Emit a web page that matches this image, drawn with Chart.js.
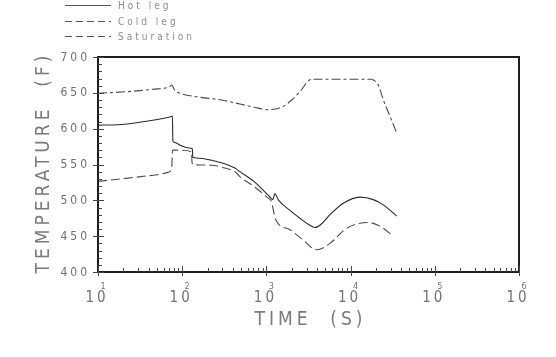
<!DOCTYPE html>
<html>
<head>
<meta charset="utf-8">
<script src="https://cdn.jsdelivr.net/npm/chart.js@4"></script>
<style>
html,body{margin:0;padding:0;background:#fff;}
#wrap{width:556px;height:357px;position:relative;}
</style>
</head>
<body>
<div id="wrap"><canvas id="c" width="556" height="357"></canvas></div>
<script>
// ---- data (time in s, temperature in F) ----
const seriesLabels = ['Hot leg', 'Cold leg', 'Saturation'];

const hotTime = [10, 17.3, 36, 55, 73, 76.5, 77.5, 80, 98, 120, 132, 133.5, 148, 223, 320, 422, 484, 716, 900, 1096, 1190, 1260, 1400, 1906, 2500, 3200, 3777, 4400, 5690, 8190, 12900, 18600, 25000, 35300];
const hotTemp = [605, 605.5, 610, 613.5, 616.5, 617.5, 583, 581, 576, 573, 572, 560, 559, 556, 551, 545, 540, 526, 515, 505, 501, 509, 500, 486, 475, 466, 462, 466, 480, 496, 504.5, 501, 493, 478];

const coldTime = [10, 22.7, 45, 68, 75, 77, 90, 129, 131, 141, 223, 320, 422, 484, 716, 1050, 1140, 1290, 1906, 2700, 3956, 5690, 8970, 16200, 22300, 32200];
const coldTemp = [526.5, 531, 535, 539, 546, 570, 570, 568, 552, 549.5, 549, 545, 540, 533, 519, 503, 499, 473, 459, 445, 431, 440, 461, 469, 464, 450];

const satTime = [10, 22.7, 45, 71, 75.5, 80, 86, 141, 293, 500, 716, 1050, 1580, 1994, 2500, 3440, 17800, 18600, 21300, 24500, 29400, 35300];
const satTemp = [649.5, 651.7, 655, 658.6, 661, 655, 651.5, 645, 640, 634, 630, 626.5, 631, 640, 651.7, 669, 669, 668, 661, 640, 617, 594];

const yTickValues = [400, 450, 500, 550, 600, 650, 700];
const xDecadeExponents = [1, 2, 3, 4, 5, 6];
const xAxisTitle = 'TIME  (S)';
const yAxisTitle = 'TEMPERATURE  (F)';

function pts(xs, ys) { return xs.map((x, i) => ({x: x, y: ys[i]})); }

const FONT = '"Liberation Sans Narrow", "DejaVu Sans Condensed", "Liberation Sans", sans-serif';
const lineStyles = [
  {color: '#2a2a2a', dash: []},
  {color: '#4a4a4a', dash: [9, 4]},
  {color: '#4a4a4a', dash: [9, 3, 3, 3]}
];

const decorPlugin = {
  id: 'decor',
  afterDraw(chart) {
    const ctx = chart.ctx;
    const xs = chart.scales.x, ys = chart.scales.y;
    const a = chart.chartArea;
    ctx.save();
    // frame
    ctx.strokeStyle = '#1e1e1e';
    ctx.lineWidth = 2;
    ctx.setLineDash([]);
    ctx.strokeRect(a.left, a.top, a.right - a.left, a.bottom - a.top);
    ctx.lineWidth = 1;
    ctx.strokeStyle = '#444';
    // y ticks
    const yMin = yTickValues[0], yMax = yTickValues[yTickValues.length - 1];
    for (let v = yMin; v <= yMax; v += 10) {
      const py = Math.round(ys.getPixelForValue(v)) + 0.5;
      ctx.beginPath();
      if (yTickValues.includes(v)) { ctx.moveTo(a.left - 5, py); ctx.lineTo(a.left + 6, py); }
      else { ctx.moveTo(a.left, py); ctx.lineTo(a.left + 4, py); }
      ctx.stroke();
    }
    // x ticks
    xDecadeExponents.forEach((e, i) => {
      const base = Math.pow(10, e);
      const px = Math.round(xs.getPixelForValue(base)) + 0.5;
      ctx.beginPath(); ctx.moveTo(px, a.bottom + 4); ctx.lineTo(px, a.bottom - 6); ctx.stroke();
      if (i < xDecadeExponents.length - 1) {
        for (let k = 2; k <= 9; k++) {
          const mx = Math.round(xs.getPixelForValue(base * k)) + 0.5;
          ctx.beginPath(); ctx.moveTo(mx, a.bottom); ctx.lineTo(mx, a.bottom - 4); ctx.stroke();
        }
      }
    });
    // y tick labels
    ctx.fillStyle = '#6e6e6e';
    ctx.font = '12px ' + FONT;
    ctx.letterSpacing = '3px';
    ctx.textAlign = 'right';
    ctx.textBaseline = 'middle';
    yTickValues.forEach(v => {
      ctx.fillText(String(v), a.left - 8, ys.getPixelForValue(v) + 0.5);
    });
    // x tick labels (10 with superscript)
    xDecadeExponents.forEach(e => {
      const px = xs.getPixelForValue(Math.pow(10, e));
      ctx.fillStyle = '#727272';
      ctx.font = '15px ' + FONT;
      ctx.letterSpacing = '3px';
      ctx.textAlign = 'center';
      ctx.textBaseline = 'alphabetic';
      ctx.fillText('10', px - 1, 302);
      ctx.font = '9px ' + FONT;
      ctx.letterSpacing = '0px';
      ctx.textAlign = 'center';
      ctx.fillText(String(e), px + 5, 289);
    });
    // axis titles
    ctx.font = '19px ' + FONT;
    ctx.letterSpacing = '4px';
    ctx.textAlign = 'center';
    ctx.textBaseline = 'middle';
    ctx.fillStyle = '#7a7a7a';
    ctx.fillText(xAxisTitle, (a.left + a.right) / 2 + 2, 320);
    ctx.save();
    ctx.translate(44, (a.top + a.bottom) / 2);
    ctx.rotate(-Math.PI / 2);
    ctx.fillText(yAxisTitle, 2, 0);
    ctx.restore();
    // legend
    const rows = [5, 21, 36];
    seriesLabels.forEach((lab, i) => {
      ctx.strokeStyle = '#555';
      ctx.lineWidth = 1;
      ctx.setLineDash(i === 0 ? [] : [7, 4]);
      ctx.beginPath(); ctx.moveTo(65, rows[i] + 0.5); ctx.lineTo(111, rows[i] + 0.5); ctx.stroke();
      ctx.setLineDash([]);
      ctx.fillStyle = '#8c8c8c';
      ctx.font = '10px ' + FONT;
      ctx.letterSpacing = '3px';
      ctx.textAlign = 'left';
      ctx.textBaseline = 'middle';
      ctx.fillText(lab, 118, rows[i] + 1);
    });
    ctx.restore();
  }
};

const seriesData = [pts(hotTime, hotTemp), pts(coldTime, coldTemp), pts(satTime, satTemp)];

new Chart(document.getElementById('c'), {
  type: 'line',
  data: {
    datasets: seriesLabels.map((lab, i) => ({
      label: lab,
      data: seriesData[i],
      borderColor: lineStyles[i].color,
      borderDash: lineStyles[i].dash,
      borderWidth: 1.1,
      pointRadius: 0,
      fill: false,
      cubicInterpolationMode: 'monotone'
    }))
  },
  options: {
    responsive: false,
    animation: false,
    devicePixelRatio: 1,
    layout: {padding: {left: 98, right: 37, top: 57, bottom: 85}},
    plugins: {legend: {display: false}, tooltip: {enabled: false}},
    scales: {
      x: {type: 'logarithmic', min: 10, max: 1000000, display: false},
      y: {type: 'linear', min: 400, max: 700, display: false}
    }
  },
  plugins: [decorPlugin]
});
</script>
</body>
</html>
